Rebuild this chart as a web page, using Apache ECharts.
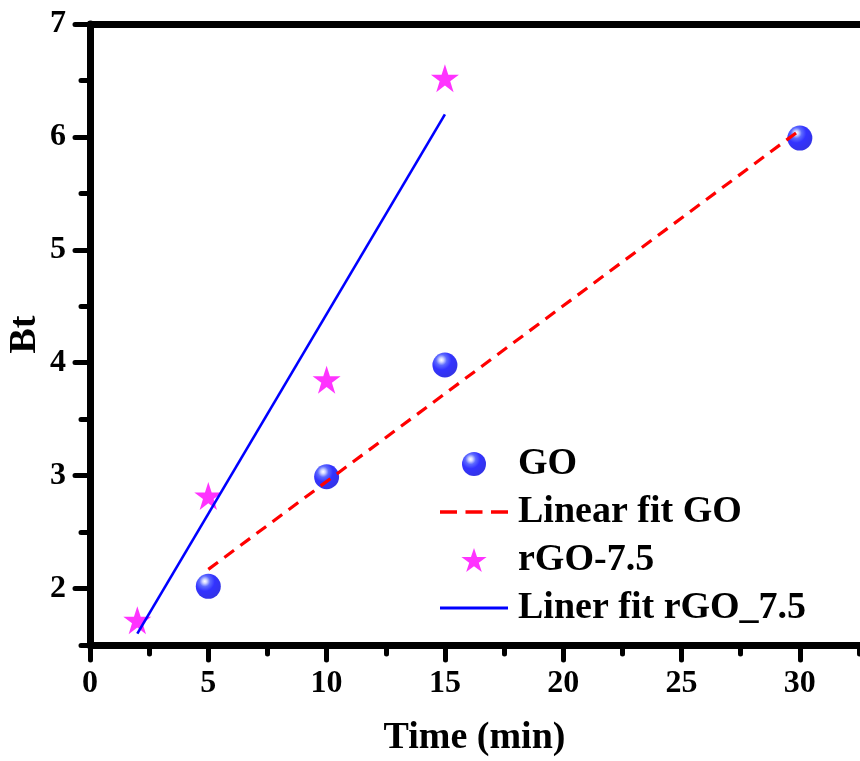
<!DOCTYPE html>
<html>
<head>
<meta charset="utf-8">
<script src="https://cdn.jsdelivr.net/npm/echarts@6/dist/echarts.min.js"></script>
<style>
  html, body { margin: 0; padding: 0; background: #fff; }
  #chart { width: 860px; height: 761px; }
</style>
</head>
<body>
<div id="chart"></div>
<script>
// Data
const goTime = [5, 10, 15, 30];
const goBt = [2.02, 2.99, 3.98, 5.99];
const rgoTime = [2, 5, 10, 15];
const rgoBt = [1.72, 2.82, 3.85, 6.52];
// fitted line end points
const goFitTime = [5, 30];
const goFitBt = [2.17, 6.06];
const rgoFitTime = [2, 15];
const rgoFitBt = [1.60, 6.20];

const xMajorTicks = [0, 5, 10, 15, 20, 25, 30];
const yMajorTicks = [2, 3, 4, 5, 6, 7];

const font = 'Liberation Serif, Times New Roman, serif';
const pairs = (xs, ys) => xs.map((x, i) => [x, ys[i]]);

const sphere = {
    type: 'radial', x: 0.36, y: 0.3, r: 0.72,
    colorStops: [
        { offset: 0, color: '#ffffff' },
        { offset: 0.12, color: '#c4caff' },
        { offset: 0.3, color: '#3444ff' },
        { offset: 0.55, color: '#0000ff' },
        { offset: 1, color: '#0000e0' }
    ]
};
const star = 'path://M50,0 L62,36 L100,36 L69,58 L81,95 L50,72 L19,95 L31,58 L0,36 L38,36 Z';
// legend icons for the fit lines
const dashIcon = 'path://M0,0h17v3.4h-17z M25.5,0h17v3.4h-17z M51,0h17v3.4h-17z';
const solidIcon = 'path://M0,0h68v2.8h-68z';

const chart = echarts.init(document.getElementById('chart'));

const tickStyle = { color: '#000', width: 5, cap: 'round' };

chart.setOption({
    animation: false,
    backgroundColor: '#fff',
    grid: { left: 90, right: 1, top: 24, bottom: 116, containLabel: false, outerBoundsMode: 'none' },
    legend: {
        left: 435, top: 439, orient: 'vertical',
        itemWidth: 68, itemHeight: 24, itemGap: 8,
        data: [
            { name: 'GO' },
            { name: 'Linear fit GO', icon: dashIcon },
            { name: 'rGO-7.5' },
            { name: 'Liner fit rGO_7.5', icon: solidIcon }
        ],
        textStyle: {
            fontFamily: font, fontWeight: 'bold', fontSize: 38,
            color: '#000', lineHeight: 40, padding: [0, 0, 0, 5]
        }
    },
    xAxis: [
        {
            type: 'value', position: 'bottom', min: 0, max: 32.5, interval: 2.5,
            name: 'Time (min)', nameLocation: 'middle', nameGap: 74, nameMoveOverlap: false,
            nameTextStyle: { fontFamily: font, fontWeight: 'bold', fontSize: 38, color: '#000' },
            axisLine: { lineStyle: { color: '#000', width: 7 } },
            axisTick: { length: 9, lineStyle: tickStyle },
            axisLabel: {
                margin: 23, fontFamily: font, fontWeight: 'bold', fontSize: 32, color: '#000',
                formatter: v => (v % 5 === 0 ? String(v) : '')
            },
            splitLine: { show: false }
        },
        {
            type: 'value', position: 'bottom', min: 0, max: 32.5,
            axisLine: { show: false },
            axisTick: { show: true, length: 15, customValues: xMajorTicks, lineStyle: tickStyle },
            axisLabel: { show: false },
            splitLine: { show: false }
        },
        {
            type: 'value', position: 'top', min: 0, max: 32.5,
            axisLine: { lineStyle: { color: '#000', width: 7 } },
            axisTick: { show: false },
            axisLabel: { show: false },
            splitLine: { show: false }
        }
    ],
    yAxis: [
        {
            type: 'value', position: 'left', min: 1.5, max: 7, interval: 0.5,
            name: 'Bt', nameLocation: 'middle', nameGap: 46, nameRotate: 90, nameMoveOverlap: false,
            nameTextStyle: { fontFamily: font, fontWeight: 'bold', fontSize: 38, color: '#000' },
            axisLine: { lineStyle: { color: '#000', width: 7 } },
            axisTick: { length: 9, lineStyle: tickStyle },
            axisLabel: {
                margin: 24, fontFamily: font, fontWeight: 'bold', fontSize: 32, color: '#000',
                formatter: v => (v % 1 === 0 ? String(v) : '')
            },
            splitLine: { show: false }
        },
        {
            type: 'value', position: 'left', min: 1.5, max: 7,
            axisLine: { show: false },
            axisTick: { show: true, length: 15, customValues: yMajorTicks, lineStyle: tickStyle },
            axisLabel: { show: false },
            splitLine: { show: false }
        },
        {
            type: 'value', position: 'right', min: 1.5, max: 7,
            axisLine: { show: true, lineStyle: { color: '#000', width: 2.5 } },
            axisTick: { show: false },
            axisLabel: { show: false },
            splitLine: { show: false }
        }
    ],
    series: [
        {
            name: 'GO', type: 'scatter', symbol: 'circle', symbolSize: 25,
            itemStyle: { color: sphere },
            data: pairs(goTime, goBt), z: 2
        },
        {
            name: 'Linear fit GO', type: 'line', symbol: 'none',
            lineStyle: { color: '#ff0000', width: 3.2, type: [12, 8] },
            itemStyle: { color: '#ff0000' },
            data: pairs(goFitTime, goFitBt), z: 3
        },
        {
            name: 'rGO-7.5', type: 'scatter', symbol: star, symbolSize: 28,
            itemStyle: { color: '#ff00ff' },
            data: pairs(rgoTime, rgoBt), z: 2
        },
        {
            name: 'Liner fit rGO_7.5', type: 'line', symbol: 'none',
            lineStyle: { color: '#0000ff', width: 2.6 },
            itemStyle: { color: '#0000ff' },
            data: pairs(rgoFitTime, rgoFitBt), z: 3
        }
    ]
});
</script>
</body>
</html>
